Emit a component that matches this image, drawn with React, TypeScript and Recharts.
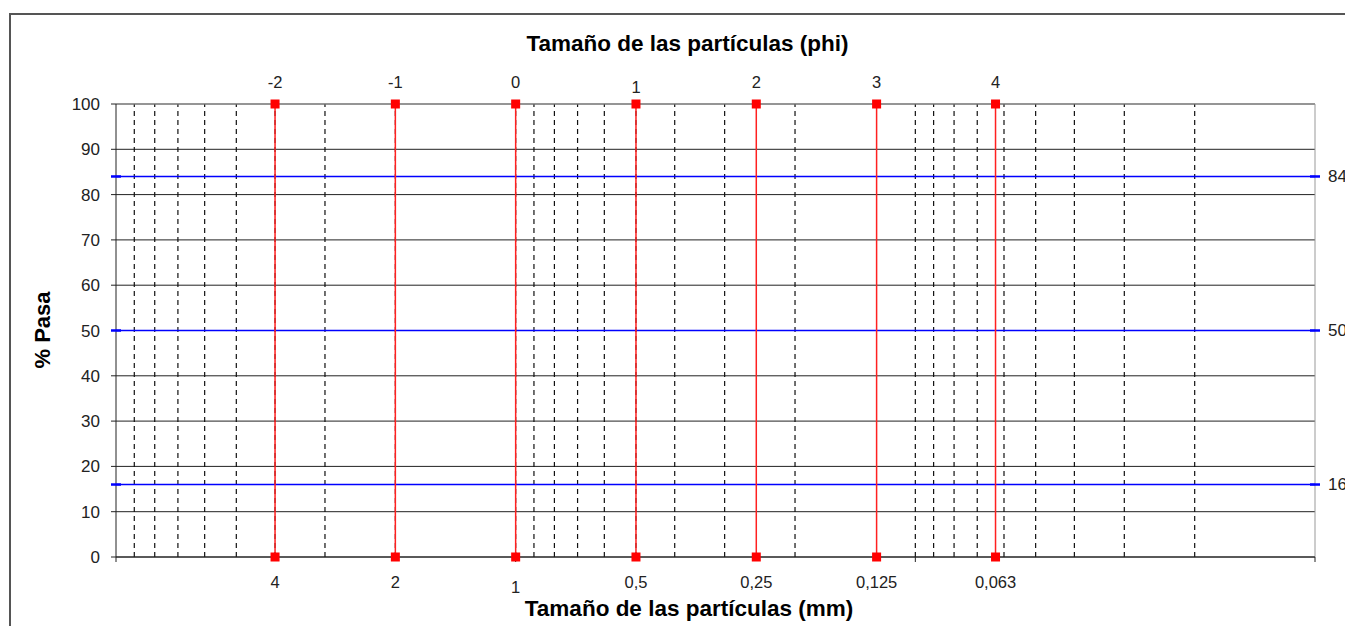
import React from "react";
import {
  ComposedChart,
  Scatter,
  XAxis,
  YAxis,
  CartesianGrid,
  ReferenceLine,
} from "recharts";

// Particle sizes: phi scale and the matching size in mm
const phiValues = [-2, -1, 0, 1, 2, 3, 4];
const mmValues = [4, 2, 1, 0.5, 0.25, 0.125, 0.063];
const mmLabels = ["4", "2", "1", "0,5", "0,25", "0,125", "0,063"];

// % Pasa axis
const pasaTicks = [0, 10, 20, 30, 40, 50, 60, 70, 80, 90, 100];

// Percentile reference lines (16, 50, 84)
const percentiles = [16, 50, 84];

// Log axis (mm), reversed: 10 mm on the left, 0.01 mm on the right
const mmDomain = [0.01, 10];
const mmMajorTicks = [10, 1, 0.1, 0.01];
const mmMinorGrid = [
  9, 8, 7, 6, 5, 4, 3, 2, 1,
  0.9, 0.8, 0.7, 0.6, 0.5, 0.4, 0.3, 0.2, 0.1,
  0.09, 0.08, 0.07, 0.06, 0.05, 0.04, 0.03, 0.02,
];

const FONT = "'Liberation Sans', Arial, sans-serif";

const sizeLines = phiValues.map((phi, i) => [
  { mm: mmValues[i], pasa: pasaTicks[0], phi, label: mmLabels[i] },
  { mm: mmValues[i], pasa: pasaTicks[pasaTicks.length - 1], phi, label: mmLabels[i] },
]);

const percentileLines = percentiles.map((p) => [
  { mm: mmDomain[1], pasa: p, end: false },
  { mm: mmDomain[0], pasa: p, end: true },
]);

const RedMarker = (props: any) => {
  const { cx, cy, payload } = props;
  if (cx == null || cy == null) return null;
  const top = payload.pasa === 100;
  const text = top ? String(payload.phi) : payload.label;
  // Excel drew the "1" labels a few pixels lower than the rest
  const shift = text === "1" ? 5 : 0;
  return (
    <g>
      <rect x={cx - 4.5} y={cy - 4.5} width={9} height={9} fill="#ff0000" />
      <text
        x={cx}
        y={(top ? cy - 22 : cy + 25) + shift}
        textAnchor="middle"
        dominantBaseline="central"
        fontSize={16.5}
        fontFamily={FONT}
        fill="#222"
      >
        {text}
      </text>
    </g>
  );
};

const BlueDash = (props: any) => {
  const { cx, cy, payload } = props;
  if (cx == null || cy == null) return null;
  return (
    <g>
      <line x1={cx - 5} x2={cx + 5} y1={cy} y2={cy} stroke="#0000ff" strokeWidth={2.5} />
      {payload.end && (
        <text
          x={cx + 13}
          y={cy}
          dominantBaseline="central"
          fontSize={17}
          fontFamily={FONT}
          fill="#222"
        >
          {payload.pasa}
        </text>
      )}
    </g>
  );
};

export default function App() {
  return (
    <div
      style={{
        position: "absolute",
        left: 0,
        top: 0,
        width: 1345,
        height: 626,
        overflow: "hidden",
        background: "#fff",
        fontFamily: FONT,
      }}
    >
      <div
        style={{
          position: "absolute",
          left: 9,
          top: 13,
          width: 1400,
          height: 700,
          border: "2px solid #555",
        }}
      />
      <div
        style={{
          position: "absolute",
          left: 0,
          width: 1375,
          top: 31,
          textAlign: "center",
          fontWeight: "bold",
          fontSize: 22.5,
          color: "#000",
          whiteSpace: "nowrap",
        }}
      >
        Tamaño de las partículas (phi)
      </div>
      <div
        style={{
          position: "absolute",
          left: 0,
          width: 1378,
          top: 596,
          textAlign: "center",
          fontWeight: "bold",
          fontSize: 22.5,
          color: "#000",
          whiteSpace: "nowrap",
        }}
      >
        Tamaño de las partículas (mm)
      </div>
      <div
        style={{
          position: "absolute",
          left: 43,
          top: 330,
          transform: "translate(-50%, -50%) rotate(-90deg)",
          fontWeight: "bold",
          fontSize: 22,
          whiteSpace: "nowrap",
          color: "#000",
        }}
      >
        % Pasa
      </div>
      <div style={{ position: "absolute", left: 0, top: 0 }}>
        <ComposedChart
          width={1345}
          height={626}
          margin={{ top: 104, right: 30, bottom: 0, left: 0 }}
        >
          <CartesianGrid vertical={false} stroke="#222" />
          <XAxis
            type="number"
            dataKey="mm"
            scale="log"
            domain={mmDomain}
            reversed
            ticks={mmMajorTicks}
            tickFormatter={() => ""}
            height={69}
            stroke="#222"
            tickSize={5}
          />
          <YAxis
            type="number"
            dataKey="pasa"
            domain={[0, 100]}
            ticks={pasaTicks}
            width={116}
            stroke="#222"
            tickSize={5}
            tickMargin={11}
            tick={{ fill: "#222", fontSize: 17, fontFamily: FONT }}
          />
          {mmMinorGrid.map((v) => (
            <ReferenceLine
              key={`g${v}`}
              x={v}
              stroke="#111"
              strokeDasharray="5 4"
              strokeWidth={1.2}
            />
          ))}
          <ReferenceLine y={100} stroke="#999" />
          <ReferenceLine x={mmDomain[0]} stroke="#999" />
          {percentileLines.map((d, i) => (
            <Scatter
              key={`p${i}`}
              data={d}
              line={{ stroke: "#0000ff", strokeWidth: 1.5 }}
              shape={BlueDash}
              isAnimationActive={false}
            />
          ))}
          {sizeLines.map((d, i) => (
            <Scatter
              key={`s${i}`}
              data={d}
              fill="#ff0000"
              line={{ stroke: "#ff2020", strokeWidth: 1.5 }}
              shape={RedMarker}
              isAnimationActive={false}
            />
          ))}
        </ComposedChart>
      </div>
    </div>
  );
}
